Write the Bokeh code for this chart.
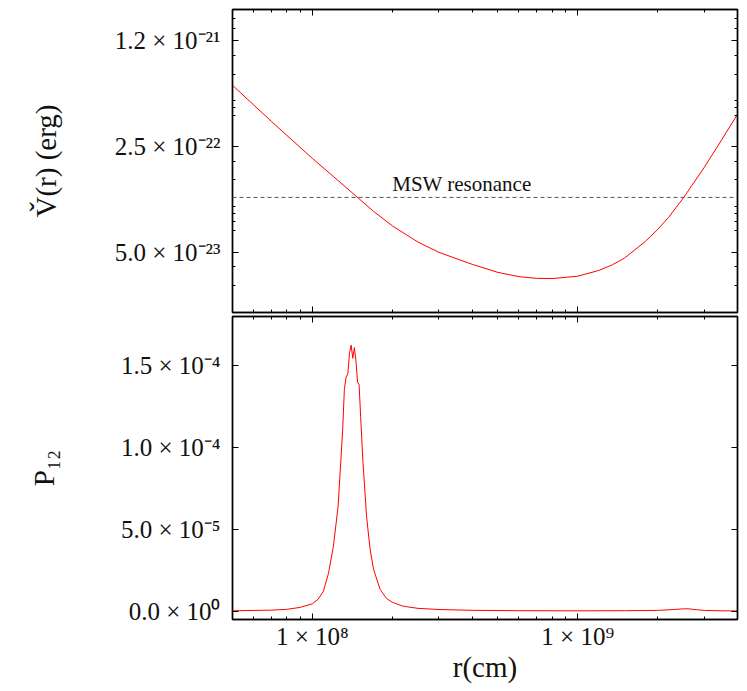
from bokeh.plotting import figure
from bokeh.models import LogAxis, LinearAxis, FixedTicker, Span, Label, Range1d
from bokeh.layouts import column
from bokeh.embed import file_html
from bokeh.resources import INLINE

# ---- data ----
r_top = [5.0e7, 6.0e7, 7.0e7, 8.0e7, 1.0e8, 1.2e8, 1.4e8, 1.7e8, 2.0e8, 2.5e8,
         3.0e8, 4.0e8, 5.0e8, 6.0e8, 7.0e8, 8.0e8, 1.0e9, 1.2e9, 1.35e9, 1.5e9,
         1.8e9, 2.0e9, 2.2e9, 2.5e9, 3.0e9, 3.5e9, 4.0e9]
v_top = [6.32e-22, 4.70e-22, 3.66e-22, 2.96e-22, 2.08e-22, 1.58e-22, 1.25e-22,
         9.31e-23, 7.47e-23, 5.83e-23, 4.99e-23, 4.16e-23, 3.68e-23, 3.45e-23,
         3.36e-23, 3.35e-23, 3.47e-23, 3.79e-23, 4.13e-23, 4.57e-23, 5.90e-23,
         7.06e-23, 8.49e-23, 1.14e-22, 1.82e-22, 2.79e-22, 4.07e-22]

r_bot = [5.0e7, 7.0e7, 8.0e7, 9.0e7, 1.0e8, 1.05e8, 1.1e8, 1.15e8, 1.2e8, 1.25e8,
         1.3e8, 1.32e8, 1.34e8, 1.36e8, 1.38e8, 1.40e8, 1.42e8, 1.44e8, 1.46e8,
         1.48e8, 1.50e8, 1.52e8, 1.55e8, 1.6e8, 1.65e8, 1.7e8, 1.8e8, 1.9e8,
         2.0e8, 2.2e8, 2.5e8, 3.0e8, 4.0e8, 6.0e8, 1.0e9, 1.5e9, 2.0e9, 2.3e9,
         2.5e9, 2.6e9, 2.8e9, 3.0e9, 3.5e9, 4.0e9]
p12 = [3.0e-7, 7.3e-7, 1.2e-6, 2.4e-6, 4.6e-6, 7.3e-6, 1.22e-5, 2.32e-5, 3.97e-5,
       6.41e-5, 1.10e-4, 1.355e-4, 1.43e-4, 1.45e-4, 1.575e-4, 1.625e-4, 1.545e-4,
       1.61e-4, 1.525e-4, 1.40e-4, 1.385e-4, 1.19e-4, 9.2e-5, 5.8e-5, 3.8e-5,
       2.56e-5, 1.34e-5, 7.9e-6, 5.5e-6, 3.1e-6, 1.8e-6, 1.1e-6, 6.0e-7, 3.7e-7,
       3.0e-7, 3.7e-7, 5.5e-7, 1.1e-6, 1.5e-6, 1.55e-6, 1.0e-6, 5.5e-7, 3.0e-7,
       2.5e-7]

msw_level = 1.15e-22
msw_label_r = 3.66e8

x_major = [1e8, 1e9]
x_major_labels = ["1 × 10⁸", "1 × 10⁹"]
x_minor = [6e7, 7e7, 8e7, 9e7, 2e8, 3e8, 4e8, 5e8, 6e8, 7e8, 8e8, 9e8, 2e9, 3e9]

top_y_major = [5e-23, 2.5e-22, 1.25e-21]
top_y_labels = ["5.0 × 10⁻²³", "2.5 × 10⁻²²", "1.2 × 10⁻²¹"]
top_y_minor = [3e-23, 4e-23, 7e-23, 8e-23, 9e-23, 1e-22, 1.5e-22, 2e-22,
               4e-22, 4.5e-22, 5e-22, 7.5e-22, 1e-21, 1.5e-21, 1.75e-21]

bot_y_major = [0.0, 5e-5, 1e-4, 1.5e-4]
bot_y_labels = ["0.0 × 10⁰", "5.0 × 10⁻⁵", "1.0 × 10⁻⁴", "1.5 × 10⁻⁴"]

FONT = "Liberation Serif"
TICK_FS = "25px"
LABEL_FS = "29px"


def style_axis(ax, labels):
    ax.major_tick_in = 6
    ax.major_tick_out = 0
    ax.minor_tick_in = 3
    ax.minor_tick_out = 0
    ax.axis_line_color = "black"
    ax.axis_line_width = 1.4
    ax.major_tick_line_color = "black"
    ax.minor_tick_line_color = "black"
    ax.major_label_text_font = FONT
    ax.axis_label_text_font = FONT
    ax.axis_label_text_font_style = "normal"
    ax.major_label_text_color = "#111111"
    ax.axis_label_text_color = "#111111"
    if not labels:
        ax.major_label_text_font_size = "1px"
        ax.major_label_text_alpha = 0.0
        ax.major_label_standoff = 0
    else:
        ax.major_label_text_font_size = TICK_FS
        ax.axis_label_text_font_size = LABEL_FS


def make_fig(height, y_type, y_range, top_border, bottom_border):
    p = figure(width=745, height=height, x_axis_type="log", y_axis_type=y_type,
               x_range=Range1d(5e7, 4e9), y_range=y_range,
               x_axis_location=None, y_axis_location=None,
               output_backend="svg", toolbar_location=None,
               min_border_left=232, min_border_right=8,
               min_border_top=top_border, min_border_bottom=bottom_border)
    p.outline_line_color = "black"
    p.outline_line_width = 1.4
    p.background_fill_color = "white"
    p.border_fill_color = "white"
    for g in p.grid:
        g.visible = False
    return p


xticker = FixedTicker(ticks=x_major, minor_ticks=x_minor)

# ---- top panel ----
top = make_fig(314, "log", Range1d(2e-23, 2e-21), 9, 2)
yt_ticker = FixedTicker(ticks=top_y_major, minor_ticks=top_y_minor)

ax = LogAxis(ticker=yt_ticker, axis_label="V̌(r) (erg)",
             major_label_overrides=dict(zip(top_y_major, top_y_labels)))
style_axis(ax, True)
ax.major_label_standoff = 12
ax.axis_label_standoff = 50
top.add_layout(ax, "left")
axr = LogAxis(ticker=yt_ticker)
style_axis(axr, False)
top.add_layout(axr, "right")
for loc in ("below", "above"):
    a = LogAxis(ticker=xticker)
    style_axis(a, False)
    top.add_layout(a, loc)

top.line(r_top, v_top, line_color="red", line_width=1)
top.add_layout(Span(location=msw_level, dimension="width", line_color="#555555",
                    line_dash="4 3", line_width=1))
top.add_layout(Label(x=msw_label_r, y=msw_level, text="MSW resonance",
                     text_align="center", text_baseline="bottom", y_offset=1,
                     text_font=FONT, text_font_size="21px", text_color="#111111"))

# ---- bottom panel ----
bot = make_fig(373, "linear", Range1d(-5e-6, 1.8e-4), 2, 68)
yb_ticker = FixedTicker(ticks=bot_y_major, minor_ticks=[])
ay = LinearAxis(ticker=yb_ticker, axis_label="P₁₂",
                major_label_overrides=dict(zip(bot_y_major, bot_y_labels)))
style_axis(ay, True)
ay.major_label_standoff = 12
ay.axis_label_standoff = 58
bot.add_layout(ay, "left")
ayr = LinearAxis(ticker=yb_ticker)
style_axis(ayr, False)
bot.add_layout(ayr, "right")

axb = LogAxis(ticker=xticker, axis_label="r(cm)",
              major_label_overrides=dict(zip(x_major, x_major_labels)))
style_axis(axb, True)
axb.major_label_standoff = 3
axb.axis_label_standoff = -2
bot.add_layout(axb, "below")
axt = LogAxis(ticker=xticker)
style_axis(axt, False)
bot.add_layout(axt, "above")

bot.line(r_bot, p12, line_color="red", line_width=1)

layout = column(top, bot, spacing=0)
open("out.html", "w").write(file_html(layout, INLINE))
